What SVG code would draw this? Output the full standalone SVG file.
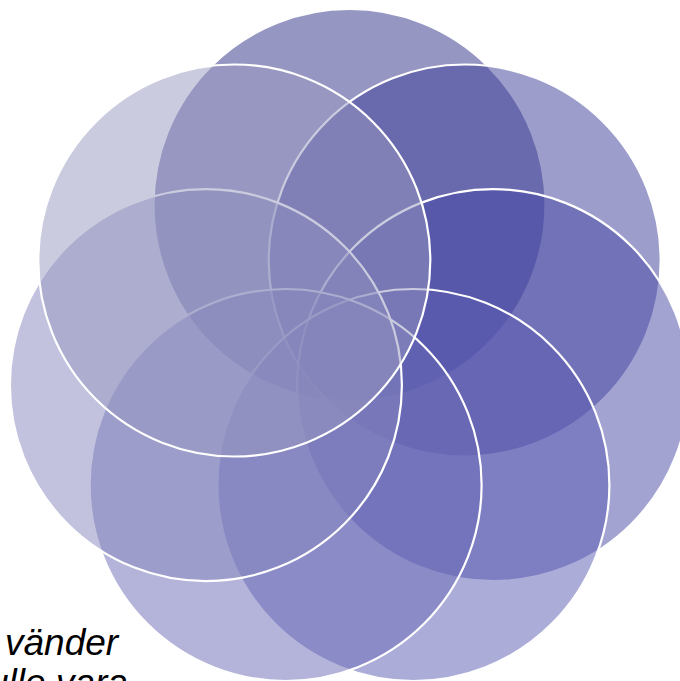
<svg xmlns="http://www.w3.org/2000/svg" width="680" height="681" viewBox="0 0 680 681">
<style>
.c{stroke:#ffffff;stroke-width:2.2;fill-opacity:0.5}
.t{font-family:"Liberation Sans",Arial,sans-serif;font-style:italic;font-size:37px;fill:#000000}
</style>
<rect width="680" height="681" fill="#ffffff"/>
<g id="circle1"><circle class="c" cx="349.5" cy="205" r="196" fill="#2d2d85"/></g>
<g id="circle2"><circle class="c" cx="464.7" cy="260.5" r="196" fill="#3b3b99"/></g>
<g id="circle3"><circle class="c" cx="493.1" cy="385.1" r="196" fill="#4747a5"/></g>
<g id="circle4"><circle class="c" cx="413.4" cy="485" r="196" fill="#5959b1"/></g>
<g id="circle5"><circle class="c" cx="285.6" cy="485" r="196" fill="#6969b5"/></g>
<g id="circle6"><circle class="c" cx="205.9" cy="385.1" r="196" fill="#8585bd"/></g>
<g id="circle7"><circle class="c" cx="234.3" cy="260.5" r="196" fill="#9797bf"/></g>
<g id="connectors"></g>
<text class="t" x="5" y="655">vänder</text>
<text class="t" x="-12" y="695">ulle vara</text>
</svg>
